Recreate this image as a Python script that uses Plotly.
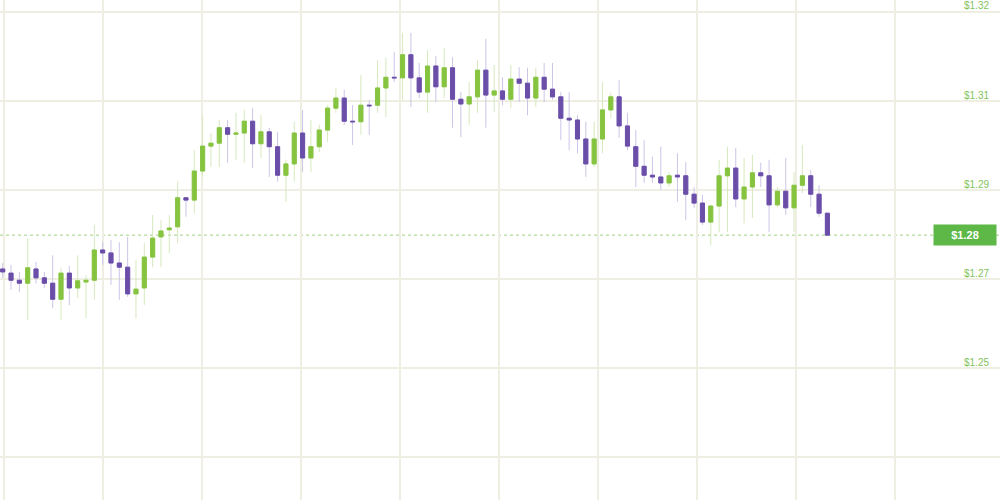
import plotly.graph_objects as go

# ---- data ----
days = list(range(100))

opens = [1.2767, 1.2760, 1.2748, 1.2743, 1.2767, 1.2752, 1.2743, 1.2716, 1.2760, 1.2735,
         1.2745, 1.2748, 1.2799, 1.2794, 1.2777, 1.2770, 1.2725, 1.2735, 1.2787, 1.2821,
         1.2833, 1.2838, 1.2887, 1.2883, 1.2932, 1.2974, 1.2979, 1.3005, 1.2994, 1.2996,
         1.3016, 1.2978, 1.2998, 1.2973, 1.2925, 1.2944, 1.2996, 1.2954, 1.2973, 1.3001,
         1.3038, 1.3055, 1.3016, 1.3015, 1.3043, 1.3043, 1.3072, 1.3090, 1.3089, 1.3128,
         1.3089, 1.3065, 1.3109, 1.3074, 1.3106, 1.3053, 1.3045, 1.3057, 1.3102, 1.3060,
         1.3067, 1.3053, 1.3087, 1.3080, 1.3055, 1.3090, 1.3070, 1.3057, 1.3021, 1.3018,
         1.2986, 1.2944, 1.2986, 1.3035, 1.3057, 1.3008, 1.2973, 1.2940, 1.2925, 1.2922,
         1.2912, 1.2925, 1.2924, 1.2893, 1.2878, 1.2846, 1.2873, 1.2924, 1.2937, 1.2885,
         1.2905, 1.2929, 1.2924, 1.2875, 1.2898, 1.2870, 1.2908, 1.2924, 1.2893, 1.2861]

closes = [1.2762, 1.2748, 1.2743, 1.2769, 1.2752, 1.2743, 1.2716, 1.2760, 1.2735, 1.2747,
          1.2748, 1.2799, 1.2794, 1.2777, 1.2770, 1.2725, 1.2733, 1.2787, 1.2819, 1.2831,
          1.2836, 1.2887, 1.2883, 1.2932, 1.2974, 1.2979, 1.3005, 1.2994, 1.2996, 1.3016,
          1.2978, 1.2998, 1.2973, 1.2925, 1.2944, 1.2996, 1.2954, 1.2973, 1.3001, 1.3038,
          1.3055, 1.3016, 1.3015, 1.3043, 1.3042, 1.3072, 1.3090, 1.3089, 1.3128, 1.3089,
          1.3065, 1.3109, 1.3074, 1.3106, 1.3053, 1.3045, 1.3057, 1.3102, 1.3060, 1.3067,
          1.3053, 1.3087, 1.3080, 1.3055, 1.3090, 1.3070, 1.3057, 1.3021, 1.3018, 1.2986,
          1.2944, 1.2986, 1.3035, 1.3057, 1.3008, 1.2974, 1.2940, 1.2925, 1.2922, 1.2912,
          1.2924, 1.2922, 1.2893, 1.2878, 1.2846, 1.2873, 1.2924, 1.2937, 1.2885, 1.2905,
          1.2929, 1.2924, 1.2875, 1.2898, 1.2870, 1.2908, 1.2924, 1.2893, 1.2861, 1.2824]

highs = [1.2777, 1.2774, 1.2762, 1.2819, 1.2779, 1.2762, 1.2790, 1.2769, 1.2772, 1.2790,
         1.2757, 1.2841, 1.2812, 1.2816, 1.2812, 1.2821, 1.2782, 1.2811, 1.2858, 1.2849,
         1.2858, 1.2914, 1.2888, 1.2967, 1.3026, 1.2996, 1.3018, 1.3018, 1.3030, 1.3035,
         1.3038, 1.3026, 1.3005, 1.2998, 1.2951, 1.3015, 1.3035, 1.3018, 1.3010, 1.3043,
         1.3072, 1.3069, 1.3043, 1.3094, 1.3052, 1.3119, 1.3123, 1.3133, 1.3165, 1.3165,
         1.3114, 1.3136, 1.3126, 1.3139, 1.3124, 1.3065, 1.3082, 1.3119, 1.3155, 1.3111,
         1.3090, 1.3111, 1.3107, 1.3106, 1.3106, 1.3114, 1.3114, 1.3065, 1.3065, 1.3026,
         1.3015, 1.3015, 1.3082, 1.3064, 1.3085, 1.3030, 1.3001, 1.2984, 1.2956, 1.2973,
         1.2930, 1.2962, 1.2947, 1.2905, 1.2892, 1.2875, 1.2951, 1.2973, 1.2971, 1.2954,
         1.2959, 1.2946, 1.2951, 1.2905, 1.2954, 1.2930, 1.2976, 1.2934, 1.2908, 1.2861]

lows = [1.2752, 1.2732, 1.2728, 1.2681, 1.2743, 1.2735, 1.2701, 1.2681, 1.2706, 1.2718,
        1.2684, 1.2715, 1.2774, 1.2740, 1.2715, 1.2720, 1.2684, 1.2706, 1.2770, 1.2770,
        1.2794, 1.2811, 1.2855, 1.2861, 1.2922, 1.2939, 1.2939, 1.2946, 1.2951, 1.2946,
        1.2937, 1.2954, 1.2922, 1.2914, 1.2880, 1.2914, 1.2930, 1.2930, 1.2964, 1.2981,
        1.3030, 1.3010, 1.2976, 1.2993, 1.2993, 1.3030, 1.3023, 1.3082, 1.3052, 1.3040,
        1.3055, 1.3030, 1.3048, 1.3055, 1.3005, 1.2989, 1.3010, 1.3030, 1.3005, 1.3032,
        1.3043, 1.3038, 1.3048, 1.3026, 1.3040, 1.3048, 1.3052, 1.2984, 1.2967, 1.2962,
        1.2922, 1.2939, 1.2962, 1.3021, 1.2988, 1.2967, 1.2905, 1.2912, 1.2912, 1.2900,
        1.2905, 1.2880, 1.2849, 1.2870, 1.2841, 1.2807, 1.2829, 1.2829, 1.2871, 1.2844,
        1.2853, 1.2905, 1.2829, 1.2871, 1.2858, 1.2829, 1.2895, 1.2871, 1.2855, 1.2824]

grid_values = [1.245, 1.26, 1.275, 1.29, 1.305, 1.32]
label_values = [1.26, 1.275, 1.29, 1.305, 1.32]
label_texts = ["$1.25", "$1.27", "$1.29", "$1.31", "$1.32"]
last_label = "$1.28"

# ---- style ----
UP = "#86c440"
DOWN = "#6a4ea8"
UP_WICK = "#d6e9bd"
DOWN_WICK = "#cdc4e8"
GRID = "#efeee2"
LABEL = "#7fc35b"

body_hi = [max(o, c) for o, c in zip(opens, closes)]
body_lo = [min(o, c) for o, c in zip(opens, closes)]

fig = go.Figure()
# wicks
fig.add_trace(go.Candlestick(
    x=days, open=opens, high=highs, low=lows, close=closes,
    increasing=dict(line=dict(color=UP_WICK, width=1), fillcolor=UP_WICK),
    decreasing=dict(line=dict(color=DOWN_WICK, width=1), fillcolor=DOWN_WICK),
    hoverinfo="skip", showlegend=False,
))
# bodies
fig.add_trace(go.Candlestick(
    x=days, open=opens, high=body_hi, low=body_lo, close=closes,
    increasing=dict(line=dict(color=UP, width=1), fillcolor=UP),
    decreasing=dict(line=dict(color=DOWN, width=1), fillcolor=DOWN),
    showlegend=False,
))

last_close = closes[-1]
fig.add_shape(type="line", xref="paper", x0=0, x1=1, yref="y", y0=last_close, y1=last_close,
              line=dict(color="#9fd07f", width=1, dash="dot"), layer="below")

for v, t in zip(label_values, label_texts):
    fig.add_annotation(xref="paper", x=0.99, y=v, yref="y", text=t, showarrow=False,
                       xanchor="right", yanchor="middle", yshift=6, borderpad=0,
                       font=dict(size=10, color=LABEL, family="Liberation Sans, Arial"))

fig.add_annotation(xref="paper", x=0.965, y=last_close, yref="y", text="<b>" + last_label + "</b>",
                   showarrow=False, xanchor="center", yanchor="middle",
                   bgcolor="#5db847", width=58, height=16, borderpad=2,
                   font=dict(size=11, color="white", family="Liberation Sans, Arial"))

fig.update_layout(
    width=1000, height=500,
    margin=dict(l=0, r=0, t=0, b=0),
    paper_bgcolor="white", plot_bgcolor="white",
    showlegend=False,
    xaxis=dict(range=[-0.324, 119.72], tickmode="array",
               tickvals=[0.16 + 11.88 * i for i in range(10)],
               showticklabels=False, showgrid=True, gridcolor=GRID, gridwidth=2,
               zeroline=False, rangeslider=dict(visible=False), fixedrange=True),
    yaxis=dict(range=[1.23777, 1.32202], tickmode="array", tickvals=grid_values,
               showticklabels=False, showgrid=True, gridcolor=GRID, gridwidth=2,
               zeroline=False, fixedrange=True),
)

fig.write_html("out.html", config={"displayModeBar": False},
               post_script="document.body.style.margin='0';document.body.style.overflow='hidden';")
